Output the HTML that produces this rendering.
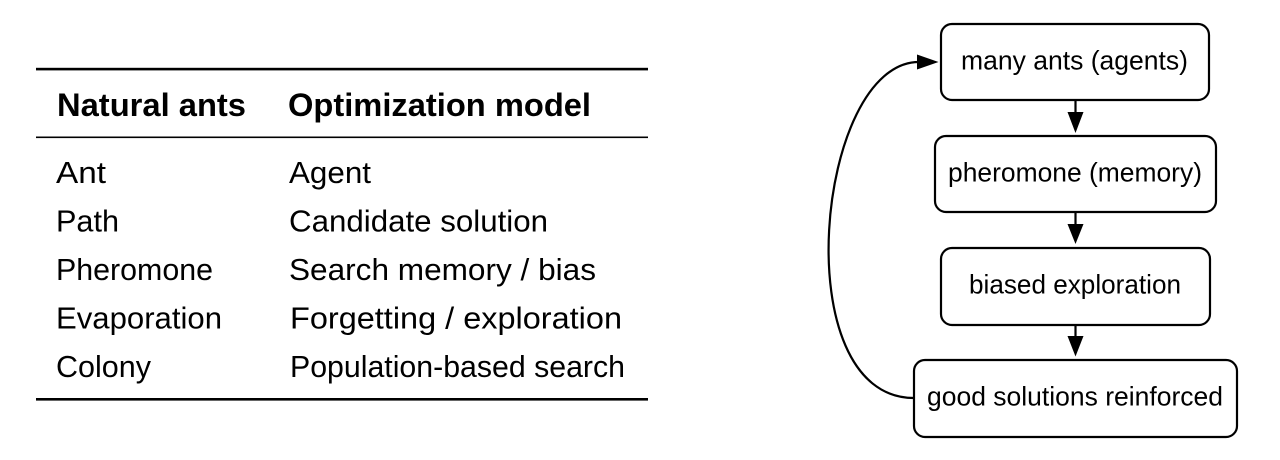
<!DOCTYPE html>
<html>
<head>
<meta charset="utf-8">
<style>
  html, body { margin: 0; padding: 0; background: #ffffff; }
  body { width: 1280px; height: 460px; overflow: hidden; }
  svg { display: block; }
  text { font-family: "Liberation Sans", "DejaVu Sans", sans-serif; fill: #000; }
</style>
</head>
<body>
<svg width="1280" height="460" viewBox="0 0 1280 460" xmlns="http://www.w3.org/2000/svg">
  <rect x="0" y="0" width="1280" height="460" fill="#ffffff"/>

  <!-- Table rules -->
  <rect x="36" y="67.8" width="612" height="2.6" fill="#000"/>
  <rect x="36" y="136.5" width="612" height="1.6" fill="#000"/>
  <rect x="36" y="398" width="612" height="2.6" fill="#000"/>

  <!-- Header -->
  <text x="57" y="116" font-size="32" font-weight="bold" textLength="189" lengthAdjust="spacingAndGlyphs">Natural ants</text>
  <text x="288" y="116" font-size="32" font-weight="bold" textLength="303" lengthAdjust="spacingAndGlyphs">Optimization model</text>

  <!-- Rows left -->
  <text x="56" y="183" font-size="31" textLength="50" lengthAdjust="spacingAndGlyphs">Ant</text>
  <text x="56" y="231.5" font-size="31" textLength="63" lengthAdjust="spacingAndGlyphs">Path</text>
  <text x="56" y="280" font-size="31" textLength="157" lengthAdjust="spacingAndGlyphs">Pheromone</text>
  <text x="56" y="328.5" font-size="31" textLength="166" lengthAdjust="spacingAndGlyphs">Evaporation</text>
  <text x="56" y="377" font-size="31" textLength="95" lengthAdjust="spacingAndGlyphs">Colony</text>

  <!-- Rows right -->
  <text x="289" y="183" font-size="31" textLength="82" lengthAdjust="spacingAndGlyphs">Agent</text>
  <text x="289" y="231.5" font-size="31" textLength="259" lengthAdjust="spacingAndGlyphs">Candidate solution</text>
  <text x="289" y="280" font-size="31" textLength="307" lengthAdjust="spacingAndGlyphs">Search memory / bias</text>
  <text x="290" y="328.5" font-size="31" textLength="332" lengthAdjust="spacingAndGlyphs">Forgetting / exploration</text>
  <text x="290" y="377" font-size="31" textLength="335" lengthAdjust="spacingAndGlyphs">Population-based search</text>

  <!-- Diagram boxes -->
  <g fill="#fff" stroke="#000" stroke-width="2.2">
    <rect x="941" y="24" width="268" height="76" rx="11" ry="11"/>
    <rect x="935" y="136" width="281" height="76" rx="11" ry="11"/>
    <rect x="941" y="248" width="269" height="77" rx="11" ry="11"/>
    <rect x="914" y="360" width="323" height="77" rx="11" ry="11"/>
  </g>

  <!-- Box labels -->
  <text x="961" y="69.5" font-size="27" textLength="227" lengthAdjust="spacingAndGlyphs">many ants (agents)</text>
  <text x="948" y="181.5" font-size="27" textLength="254" lengthAdjust="spacingAndGlyphs">pheromone (memory)</text>
  <text x="969" y="293.5" font-size="27" textLength="212" lengthAdjust="spacingAndGlyphs">biased exploration</text>
  <text x="927" y="405.5" font-size="27" textLength="296" lengthAdjust="spacingAndGlyphs">good solutions reinforced</text>

  <!-- Vertical arrows -->
  <g stroke="#000" stroke-width="2.2">
    <line x1="1075.5" y1="100" x2="1075.5" y2="114"/>
    <line x1="1075.5" y1="212" x2="1075.5" y2="226"/>
    <line x1="1075.5" y1="325" x2="1075.5" y2="338"/>
  </g>
  <g fill="#000">
    <polygon points="1067.5,112 1083.5,112 1075.5,133"/>
    <polygon points="1067.5,224 1083.5,224 1075.5,244"/>
    <polygon points="1067.5,336 1083.5,336 1075.5,356.5"/>
  </g>

  <!-- Feedback curve -->
  <path d="M914,398 C784,398 816,62 919,62" fill="none" stroke="#000" stroke-width="2.2"/>
  <polygon points="917,54.5 917,69.5 938.5,62" fill="#000"/>
</svg>
</body>
</html>
